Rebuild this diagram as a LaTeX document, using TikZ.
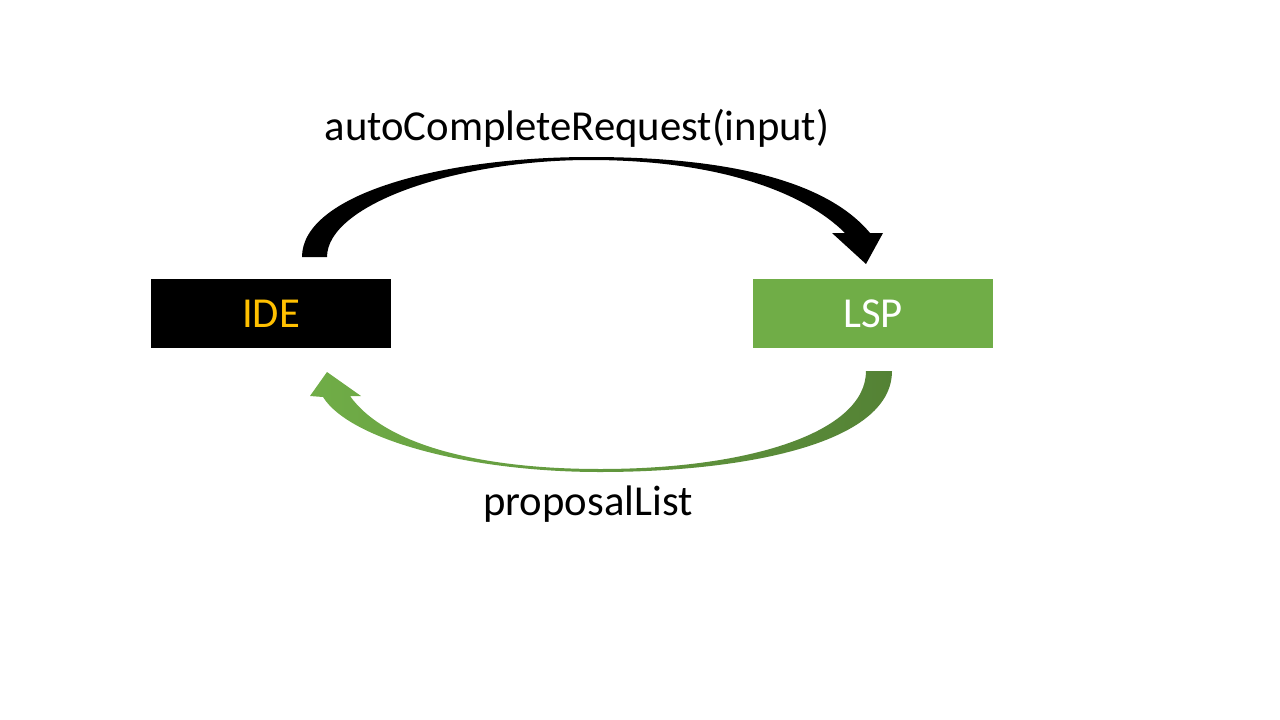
\documentclass[tikz,border=0pt]{standalone}
\usepackage{fontspec}
\setmainfont{Carlito}
\definecolor{lspgreen}{HTML}{70AD47}
\definecolor{darkgreen}{HTML}{548235}
\definecolor{idegold}{HTML}{FFC000}
\begin{document}
\begin{tikzpicture}[x=1pt,y=-1pt,
  box/.style={minimum width=240pt,minimum height=69pt,inner sep=0pt,
    font=\fontsize{42.7}{50}\selectfont},
  lbl/.style={font=\fontsize{42.7}{50}\selectfont,anchor=base,inner sep=0pt}]
\path[use as bounding box] (0,0) rectangle (1280,720);
\node[box,fill=black,text=idegold] (ide) at (271,313.5) {IDE};
\node[box,fill=lspgreen,text=white] (lsp) at (873,313.5) {LSP};
\node[lbl] (req) at (577,140) {autoCompleteRequest(input)};
\node[lbl] (prop) at (588,515) {proposalList};
% request arrow (black, tapered)
\fill[black] (302,257) .. controls (302,195) and (440,157) .. (590,157)
  .. controls (740,157) and (830,185) .. (870,233)
  -- (883,233) -- (866,264) -- (832,233) -- (845,233)
  .. controls (805,193) and (720,160) .. (590,160)
  .. controls (455,160) and (327,205) .. (327,257) -- cycle;
% response arrow (green, tapered, shaded)
\shade[left color=lspgreen,right color=darkgreen]
  (892,371) .. controls (892,445) and (740,472) .. (600,472)
  .. controls (470,472) and (350,440) .. (323,397)
  -- (310,396) -- (327,372) -- (361,396) -- (350,396)
  .. controls (385,445) and (480,469) .. (600,469)
  .. controls (750,469) and (866,432) .. (866,371) -- cycle;
\end{tikzpicture}
\end{document}
